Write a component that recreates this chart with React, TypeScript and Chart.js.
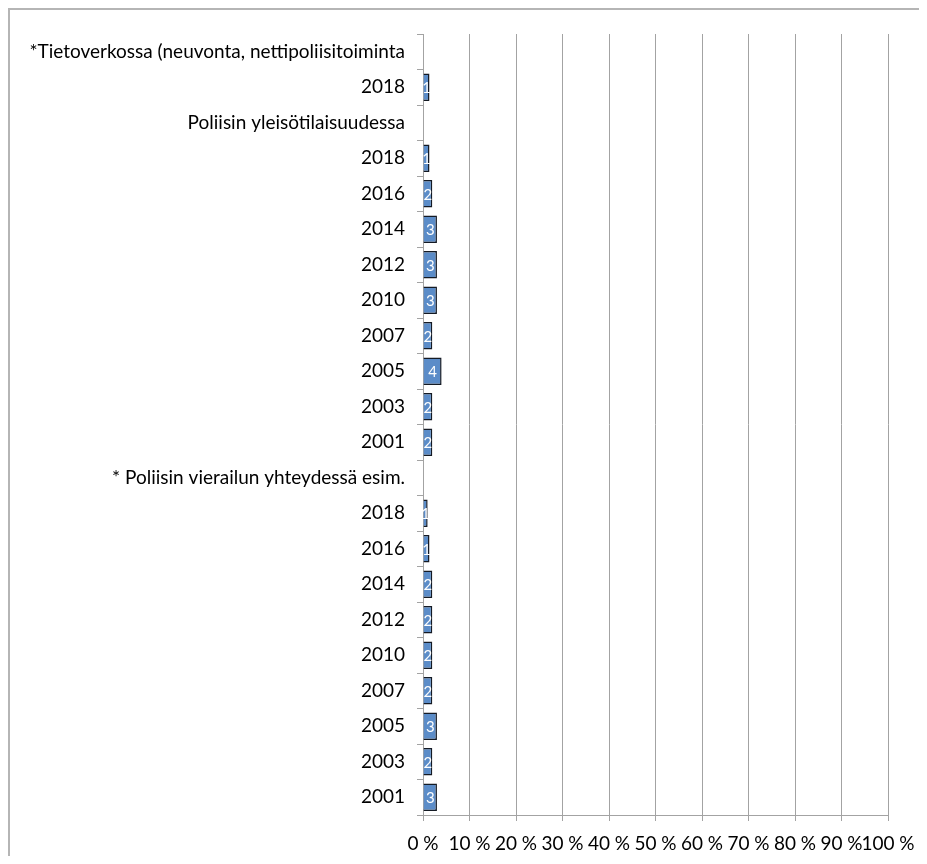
import React, { useEffect, useRef } from "react";
import { Chart, registerables } from "chart.js";

Chart.register(...registerables);

const categories: string[] = [
  "*Tietoverkossa (neuvonta, nettipoliisitoiminta",
  "2018",
  "Poliisin yleisötilaisuudessa",
  "2018",
  "2016",
  "2014",
  "2012",
  "2010",
  "2007",
  "2005",
  "2003",
  "2001",
  "* Poliisin vierailun yhteydessä esim.",
  "2018",
  "2016",
  "2014",
  "2012",
  "2010",
  "2007",
  "2005",
  "2003",
  "2001",
];

const values: (number | null)[] = [
  null, 1.4,
  null, 1.4, 2, 3, 3, 3, 2, 4, 2, 2,
  null, 1, 1.4, 2, 2, 2, 2, 3, 2, 3,
];

const dataLabels: (string | null)[] = [
  null, "1",
  null, "1", "2", "3", "3", "3", "2", "4", "2", "2",
  null, "1", "1", "2", "2", "2", "2", "3", "2", "3",
];

const xTicks: number[] = [0, 10, 20, 30, 40, 50, 60, 70, 80, 90, 100];

const FONT = "Lato, 'Open Sans', sans-serif";

const labelPlugin = {
  id: "barLabels",
  afterDatasetsDraw(chart: any) {
    const ctx = chart.ctx;
    const meta = chart.getDatasetMeta(0);
    ctx.save();
    ctx.fillStyle = "#ffffff";
    ctx.font = `15px ${FONT}`;
    ctx.textAlign = "center";
    ctx.textBaseline = "middle";
    meta.data.forEach((el: any, i: number) => {
      const t = dataLabels[i];
      if (t == null || values[i] == null) return;
      const cx = (el.x + el.base) / 2;
      ctx.fillText(t, cx, el.y + 1);
    });
    ctx.restore();
  },
};

export default function App() {
  const ref = useRef<HTMLCanvasElement | null>(null);

  useEffect(() => {
    if (!ref.current) return;
    const chart = new Chart(ref.current, {
      type: "bar",
      data: {
        labels: categories,
        datasets: [
          {
            data: values as any,
            backgroundColor: "#5b8cc8",
            borderColor: "#141a24",
            borderWidth: 1.5,
            barPercentage: 0.78,
            categoryPercentage: 1,
          },
        ],
      },
      options: {
        indexAxis: "y",
        animation: false,
        responsive: false,
        maintainAspectRatio: false,
        layout: { padding: { top: 24, right: 39, left: 0, bottom: 0 } },
        plugins: {
          legend: { display: false },
          tooltip: { enabled: false },
        },
        scales: {
          x: {
            min: 0,
            max: 100,
            afterBuildTicks(scale: any) {
              scale.ticks = xTicks.map((v) => ({ value: v }));
            },
            afterFit(scale: any) {
              scale.height = 41;
            },
            ticks: {
              color: "#000",
              font: { family: FONT, size: 19 },
              padding: 11,
              maxRotation: 0,
              autoSkip: false,
              callback: (v: any) => `${v} %`,
            },
            grid: {
              color: "#a3a3a3",
              lineWidth: 1,
              tickLength: 6,
            },
            border: { display: true, color: "#a3a3a3", width: 1 },
          },
          y: {
            afterFit(scale: any) {
              scale.width = 413;
            },
            ticks: {
              color: "#000",
              font: { family: FONT, size: 19 },
              padding: 12,
              autoSkip: false,
            },
            grid: {
              offset: true,
              drawOnChartArea: false,
              color: "#a3a3a3",
              tickLength: 6,
            },
            border: { display: true, color: "#a3a3a3", width: 1 },
          },
        },
      },
      plugins: [labelPlugin],
    });
    return () => chart.destroy();
  }, []);

  return (
    <div
      style={{
        width: 919,
        height: 848,
        boxSizing: "border-box",
        borderTop: "2px solid #b5b5b5",
        borderLeft: "2px solid #b5b5b5",
        background: "#fff",
      }}
    >
      <canvas ref={ref} width={917} height={846} style={{ display: "block" }} />
    </div>
  );
}
